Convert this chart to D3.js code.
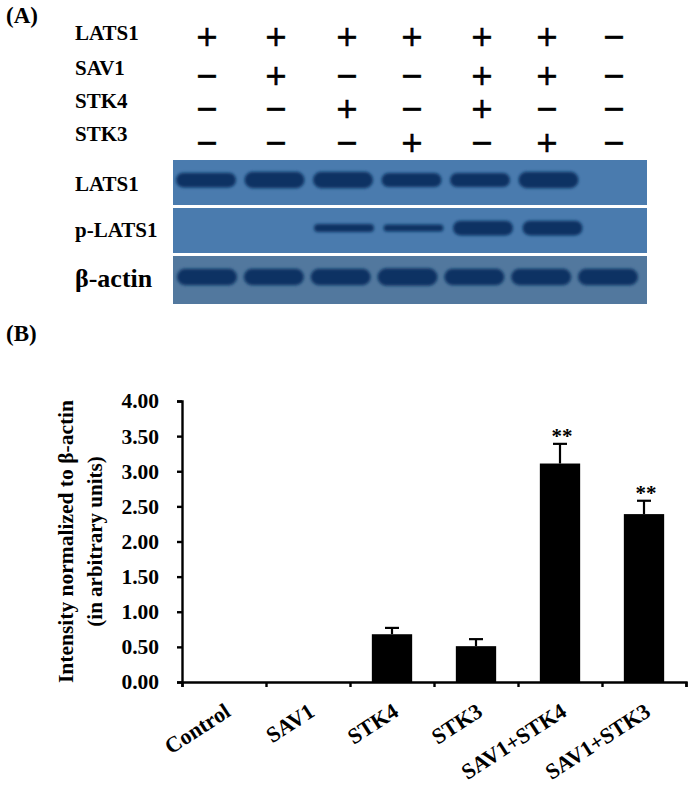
<!DOCTYPE html>
<html>
<head>
<meta charset="utf-8">
<script src="https://cdn.jsdelivr.net/npm/d3@7"></script>
<style>
  html, body { margin: 0; padding: 0; background: #fff; }
  text { font-family: "Liberation Serif", serif; font-weight: bold; fill: #000; }
</style>
</head>
<body>
<div id="chart"></div>
<script>
// Treatment table, 1 = "+" and 0 = "-"
const treatments = ["LATS1", "SAV1", "STK4", "STK3"];
const LATS1_row = [1, 1, 1, 1, 1, 1, 0];
const SAV1_row = [0, 1, 0, 0, 1, 1, 0];
const STK4_row = [0, 0, 1, 0, 1, 0, 0];
const STK3_row = [0, 0, 0, 1, 0, 1, 0];

// Blot band strength per lane
const blotNames = ["LATS1", "p-LATS1", "β-actin"];
const LATS1_bands = [0.75, 0.85, 0.85, 0.7, 0.7, 0.85, 0];
const pLATS1_bands = [0, 0, 0.35, 0.3, 0.75, 0.75, 0];
const actin_bands = [0.85, 0.85, 0.85, 0.9, 0.85, 0.85, 0.85];

// Bar chart
const categories = ["Control", "SAV1", "STK4", "STK3", "SAV1+STK4", "SAV1+STK3"];
const values = [0, 0, 0.68, 0.51, 3.11, 2.39];
const errors = [0, 0, 0.09, 0.1, 0.28, 0.19];
const marks = ["", "", "", "", "**", "**"];
const yTicks = [0, 0.5, 1, 1.5, 2, 2.5, 3, 3.5, 4];

const width = 693;
const height = 785;

const svg = d3.select("#chart").append("svg")
  .attr("width", width)
  .attr("height", height)
  .style("display", "block");

const defs = svg.append("defs");
defs.append("filter").attr("id", "soft")
  .attr("x", "-10%").attr("y", "-60%").attr("width", "120%").attr("height", "220%")
  .append("feGaussianBlur").attr("stdDeviation", 1.7);

// ── Panel labels ──
svg.append("text").attr("x", 6).attr("y", 23).attr("font-size", 23).text("(A)");
svg.append("text").attr("x", 6).attr("y", 341).attr("font-size", 23).text("(B)");

// ── Treatment table ──
const laneX = d3.scaleOrdinal().domain(d3.range(7)).range([207, 276, 347, 412, 482, 547, 614]);
const rowY = d3.scaleOrdinal().domain(treatments).range([37, 76, 109, 143]);
const labelY = d3.scaleOrdinal().domain(treatments).range([40, 75, 108, 141]);
const rows = [LATS1_row, SAV1_row, STK4_row, STK3_row];

treatments.forEach((name, r) => {
  svg.append("text")
    .attr("x", 75)
    .attr("y", labelY(name))
    .attr("font-size", 21)
    .text(name);

  svg.append("g").selectAll("text")
    .data(rows[r])
    .join("text")
    .attr("x", (d, i) => laneX(i))
    .attr("y", rowY(name) + 9)
    .attr("text-anchor", "middle")
    .attr("font-size", 28)
    .style("font-family", "'DejaVu Sans', sans-serif")
    .style("font-weight", "normal")
    .style("stroke", "#000")
    .style("stroke-width", 0.6)
    .text((d) => (d ? "+" : "−"));
});

// ── Western blot panels ──
const blots = [
  { name: blotNames[0], data: LATS1_bands, top: 160, bottom: 205, y: 180, fill: "#4a7bae", range: [206, 617], labelY: 191, size: 21 },
  { name: blotNames[1], data: pLATS1_bands, top: 208, bottom: 253, y: 228, fill: "#4a7bae", range: [205, 622], labelY: 237, size: 21 },
  { name: blotNames[2], data: actin_bands, top: 256, bottom: 304, y: 277, fill: "#52789e", range: [207, 608], labelY: 287, size: 26 },
];
const thickness = d3.scaleLinear().domain([0, 1]).range([2, 19]);

blots.forEach((blot) => {
  svg.append("rect")
    .attr("x", 173)
    .attr("y", blot.top)
    .attr("width", 474)
    .attr("height", blot.bottom - blot.top)
    .attr("fill", blot.fill);

  const x = d3.scalePoint().domain(d3.range(7)).range(blot.range);
  svg.append("g").attr("filter", "url(#soft)").selectAll("rect")
    .data(blot.data.map((v, i) => ({ v, i })).filter((d) => d.v > 0))
    .join("rect")
    .attr("x", (d) => x(d.i) - 30)
    .attr("y", (d) => blot.y - thickness(d.v) / 2)
    .attr("width", 60)
    .attr("height", (d) => thickness(d.v))
    .attr("rx", (d) => thickness(d.v) / 2)
    .attr("fill", "#0a3263");

  svg.append("text")
    .attr("x", 75)
    .attr("y", blot.labelY)
    .attr("font-size", blot.size)
    .text(blot.name);
});

// ── Bar chart ──
const plot = { left: 182, right: 686, top: 401, bottom: 682 };

const x = d3.scaleBand()
  .domain(categories)
  .range([plot.left, plot.right])
  .paddingInner(0.52)
  .paddingOuter(0.26);

const y = d3.scaleLinear().domain([0, 4]).range([plot.bottom, plot.top]);

const tickX = d3.scaleLinear().domain([0, 6]).range([plot.left, plot.right]);

// Error bars sit behind the bars
const errs = svg.append("g").attr("stroke", "#000").attr("stroke-width", 2.2);
categories.forEach((c, i) => {
  if (!values[i]) return;
  const cx = x(c) + x.bandwidth() / 2;
  errs.append("line")
    .attr("x1", cx).attr("x2", cx)
    .attr("y1", y(values[i])).attr("y2", y(values[i] + errors[i]));
  errs.append("line")
    .attr("x1", cx - 7).attr("x2", cx + 7)
    .attr("y1", y(values[i] + errors[i])).attr("y2", y(values[i] + errors[i]));
});

svg.append("g").selectAll("rect")
  .data(categories)
  .join("rect")
  .attr("x", (d) => x(d))
  .attr("y", (d, i) => y(values[i]))
  .attr("width", x.bandwidth())
  .attr("height", (d, i) => plot.bottom - y(values[i]))
  .attr("fill", "#000");

svg.append("g").selectAll("text")
  .data(categories)
  .join("text")
  .attr("x", (d) => x(d) + x.bandwidth() / 2 + 2)
  .attr("y", (d, i) => y(values[i] + errors[i]) - 1)
  .attr("text-anchor", "middle")
  .attr("font-size", 21)
  .text((d, i) => marks[i]);

// ── Axes ──
const yAxis = svg.append("g")
  .attr("transform", `translate(${plot.left},0)`)
  .call(d3.axisLeft(y).tickValues(yTicks).tickFormat(d3.format(".2f")).tickSize(5).tickPadding(18));
yAxis.selectAll("text").attr("font-size", 21.5).style("font-family", "'Liberation Serif', serif").attr("fill", "#000");

const xTicks = svg.append("g")
  .attr("transform", `translate(0,${plot.bottom})`)
  .call(d3.axisBottom(tickX).ticks(6).tickFormat("").tickSize(5).tickSizeOuter(5));

[yAxis, xTicks].forEach((g) => {
  g.selectAll(".domain, .tick line").attr("stroke", "#000").attr("stroke-width", 2.4);
});

const xLabels = svg.append("g")
  .attr("transform", `translate(0,${plot.bottom})`)
  .call(d3.axisBottom(x).tickSize(0));
xLabels.select(".domain").remove();
xLabels.selectAll("text")
  .attr("font-size", 22)
  .style("font-family", "'Liberation Serif', serif")
  .attr("fill", "#000")
  .attr("text-anchor", "end")
  .attr("x", 0)
  .attr("y", 0)
  .attr("dy", 0)
  .attr("transform", "translate(8,33) rotate(-33)");

// ── Y axis title ──
[["Intensity normalized to β-actin", 73, 21.5], ["(in arbitrary units)", 102, 21]].forEach(([label, tx, size]) => {
  svg.append("text")
    .attr("transform", `translate(${tx},${(plot.top + plot.bottom) / 2}) rotate(-90)`)
    .attr("text-anchor", "middle")
    .attr("font-size", size)
    .text(label);
});
</script>
</body>
</html>
